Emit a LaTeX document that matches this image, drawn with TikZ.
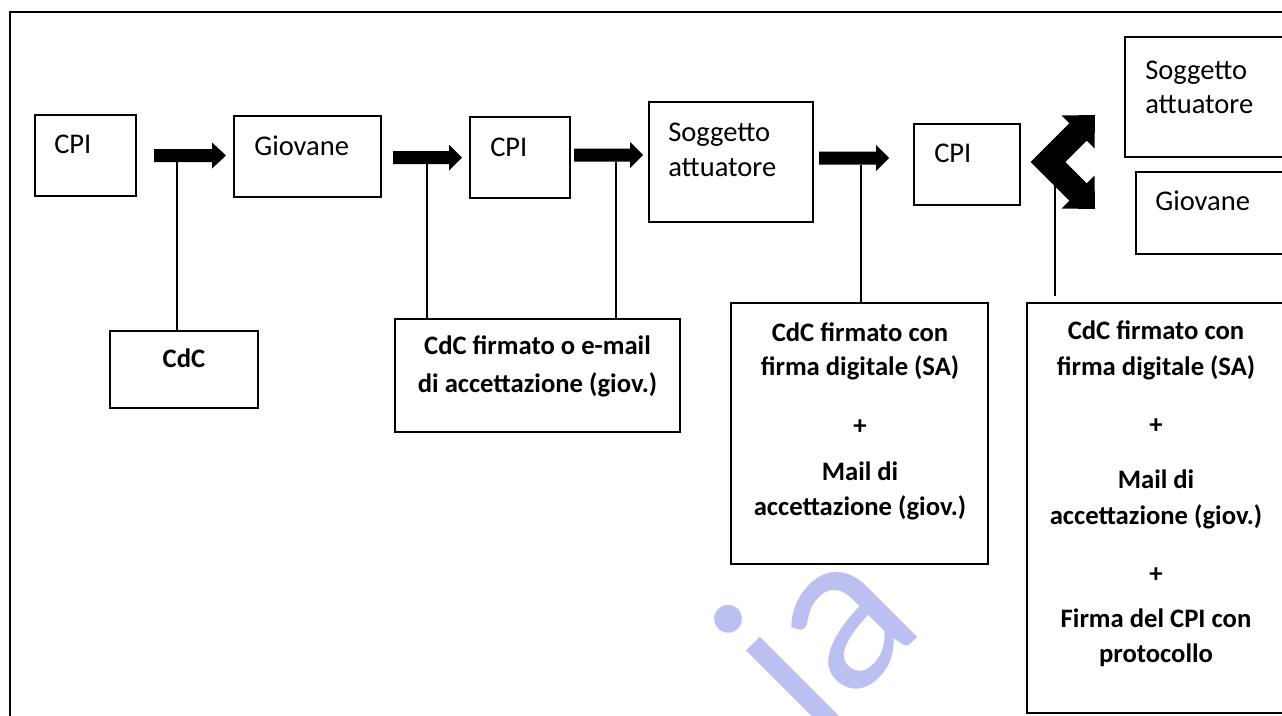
\documentclass[tikz,border=0pt]{standalone}
\usepackage{fontspec}
\setmainfont{Carlito}
\newfontfamily\wmfont{Lato}
\usetikzlibrary{fit}
\definecolor{wm}{RGB}{188,192,240}
\newcommand\blkarrow[4]{%
  \fill (#1,#4-6.5) -- (#2,#4-6.5) -- (#2,#4-13) -- (#3,#4) -- (#2,#4+13) -- (#2,#4+6.5) -- (#1,#4+6.5) -- cycle;}
\begin{document}
\begin{tikzpicture}[x=0.75pt,y=-0.75pt,
  box/.style={draw=black, line width=1pt, inner sep=0pt},
  conn/.style={draw=black, line width=1.1pt},
  reg/.style={font=\fontsize{21.4}{26}\selectfont, inner sep=0pt, anchor=base west},
  bld/.style={font=\fontsize{20}{24}\selectfont\bfseries, inner sep=0pt, anchor=base},
  wmtext/.style={font=\wmfont\fontsize{165}{170}\selectfont, text=wm, inner sep=0pt, anchor=base west, rotate=45}]
\useasboundingbox (0,0) rectangle (1282,715);
\begin{scope}
\clip (0,0) rectangle (1282,715);
% watermark
\node[wmtext] (wmark) at (813,742) {ia};
% outer frame
\draw[line width=1.5pt] (9.5,730) -- (9.5,12) -- (1300,12);
% boxes
\node[box, fit={(35,115) (136,196)}] (cpiA) {};
\node[box, fit={(234,116) (381,197)}] (giovA) {};
\node[box, fit={(470,117) (570,198)}] (cpiB) {};
\node[box, fit={(649,102) (813,222)}] (saA) {};
\node[box, fit={(914,124) (1020,205)}] (cpiC) {};
\node[box, fit={(1125,37) (1300,157)}] (saB) {};
\node[box, fit={(1136,172) (1300,254)}] (giovB) {};
\node[box, fit={(110,331) (258,408)}] (docA) {};
\node[box, fit={(395,319) (680,432)}] (docB) {};
\node[box, fit={(731,303) (988,564)}] (docC) {};
\node[box, fit={(1027,303) (1300,713)}] (docD) {};
% box texts
\node[reg] (tA) at (54,153) {CPI};
\node[reg] (tB) at (254,155) {Giovane};
\node[reg] (tC) at (490,156) {CPI};
\node[reg] (tD1) at (668,141) {Soggetto};
\node[reg] (tD2) at (668,176) {attuatore};
\node[reg] (tE) at (934,162) {CPI};
\node[reg] (tF1) at (1145,79) {Soggetto};
\node[reg] (tF2) at (1145,113) {attuatore};
\node[reg] (tG) at (1155,210) {Giovane};
\node[bld] (dA) at (184,367) {CdC};
\node[bld] (dB1) at (537.5,354) {CdC firmato o e-mail};
\node[bld] (dB2) at (537.5,392) {di accettazione (giov.)};
\node[bld] (dC1) at (860,341) {CdC firmato con};
\node[bld] (dC2) at (860,375) {firma digitale (SA)};
\node[bld] (dC3) at (860,434) {+};
\node[bld] (dC4) at (860,480) {Mail di};
\node[bld] (dC5) at (860,515) {accettazione (giov.)};
\node[bld] (dD1) at (1156,339) {CdC firmato con};
\node[bld] (dD2) at (1156,375) {firma digitale (SA)};
\node[bld] (dD3) at (1156,433) {+};
\node[bld] (dD4) at (1156,488) {Mail di};
\node[bld] (dD5) at (1156,524) {accettazione (giov.)};
\node[bld] (dD6) at (1156,582) {+};
\node[bld] (dD7) at (1156,627) {Firma del CPI con};
\node[bld] (dD8) at (1156,662) {protocollo};
% block arrows
\blkarrow{154}{212}{226}{155.5}
\blkarrow{393}{449}{462}{157.5}
\blkarrow{574}{630}{643}{155}
\blkarrow{819}{876}{889}{158}
\begin{scope}[shift={(1048,162)}]
\fill (-17.32,0) -- (21.34,-38.66) -- (13.5,-46.5) -- (47,-47) -- (46.5,-13.5) -- (38.66,-21.34) -- (17.32,0)
  -- (38.66,21.34) -- (46.5,13.5) -- (47,47) -- (13.5,46.5) -- (21.34,38.66) -- cycle;
\end{scope}
% connector anchors
\coordinate (aA) at (177,161);
\coordinate (aB) at (427,164);
\coordinate (aC) at (616,161.5);
\coordinate (aD) at (861,164.5);
\coordinate (aE) at (1055,185);
\draw[conn] (aA) -- (docA.north -| aA);
\draw[conn] (aB) -- (docB.north -| aB);
\draw[conn] (aC) -- (docB.north -| aC);
\draw[conn] (aD) -- (docC.north -| aD);
\draw[conn, shorten >=4.5pt] (aE) -- (docD.north -| aE);
\end{scope}
\end{tikzpicture}
\end{document}
